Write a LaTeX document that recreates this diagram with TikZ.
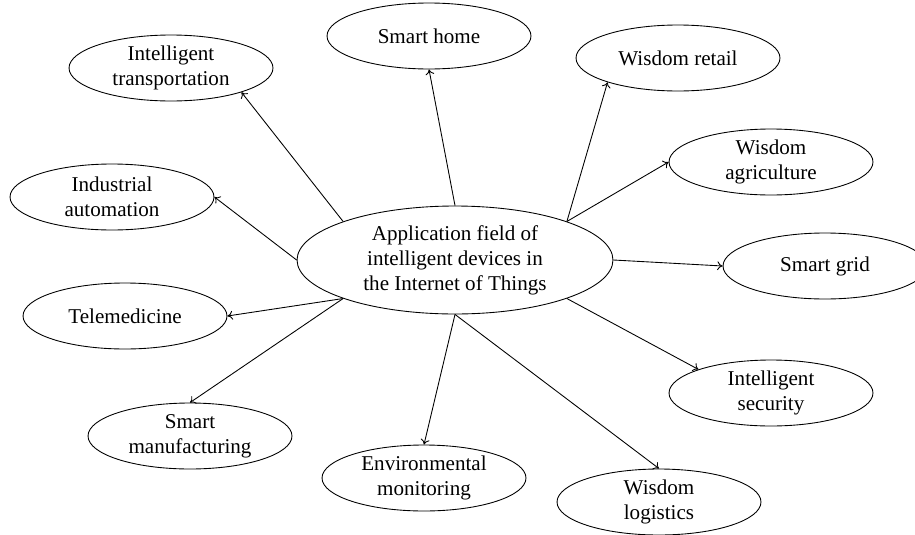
\documentclass[tikz,border=0pt]{standalone}
\usepackage{fontspec}
\setmainfont{Liberation Serif}
\usetikzlibrary{shapes.geometric,arrows.meta}
\begin{document}
\begin{tikzpicture}[x=0.02cm,y=-0.02cm,
  leaf/.style={ellipse,draw,line width=0.5pt,inner sep=0pt,minimum width=4.08cm,minimum height=1.32cm,align=center,font=\fontsize{12}{14.2}\selectfont},
  hub/.style={ellipse,draw,line width=0.5pt,inner sep=0pt,minimum width=6.32cm,minimum height=2.16cm,align=center,font=\fontsize{12}{14.2}\selectfont},
  link/.style={line width=0.5pt,-{To[length=3pt,width=5pt]}}]
\useasboundingbox (0,0) rectangle (915,534);
\node[hub] (c) at (455,260) {Application field of\\intelligent devices in\\the Internet of Things};
\node[leaf] (it) at (171,68) {Intelligent\\transportation};
\node[leaf] (ia) at (112,197) {Industrial\\automation};
\node[leaf] (sh) at (429,36) {Smart home};
\node[leaf] (wr) at (678,58) {Wisdom retail};
\node[leaf] (wa) at (771,162) {Wisdom\\agriculture};
\node[leaf] (sg) at (825,266) {Smart grid};
\node[leaf] (tm) at (125,316) {Telemedicine};
\node[leaf] (sm) at (190,436) {Smart\\manufacturing};
\node[leaf] (em) at (424,478) {Environmental\\monitoring};
\node[leaf] (wl) at (659,502) {Wisdom\\logistics};
\node[leaf] (is) at (771,393) {Intelligent\\security};
\draw[link] (c.161) -- (it.341);
\draw[link] (c.180) -- (ia.0);
\draw[link] (c.90) -- (sh.270);
\draw[link] (c.19) -- (wr.199);
\draw[link] (c.19) -- (wa.180);
\draw[link] (c.0) -- (sg.180);
\draw[link] (c.199) -- (tm.0);
\draw[link] (c.199) -- (sm.90);
\draw[link] (c.270) -- (em.90);
\draw[link] (c.270) -- (wl.90);
\draw[link] (c.341) -- (is.162);
\end{tikzpicture}
\end{document}
